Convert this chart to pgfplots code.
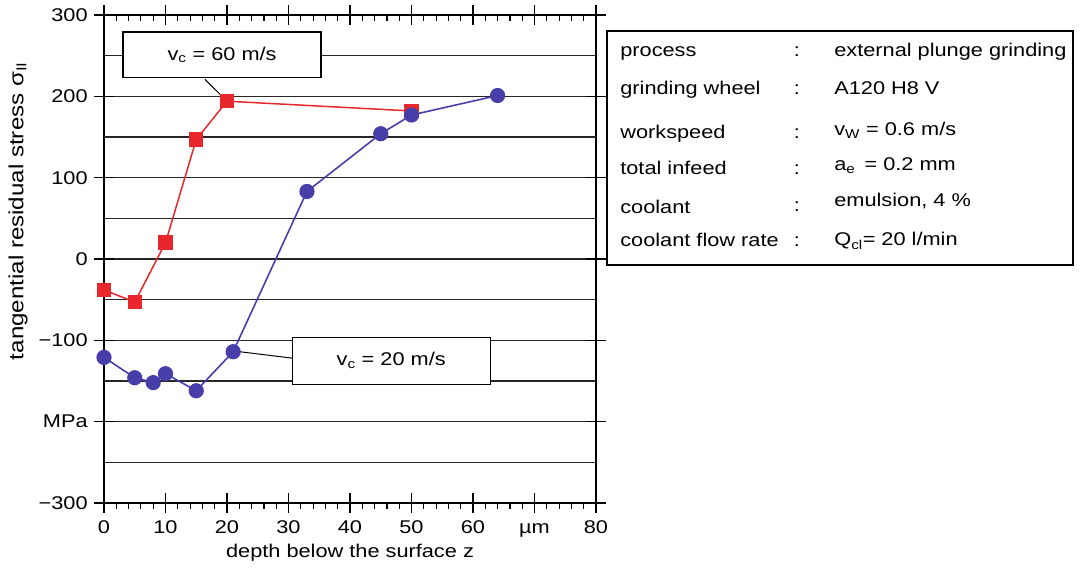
\documentclass[border=0pt]{standalone}
\usepackage{fontspec}
\setmainfont[FakeStretch=1.18]{Liberation Sans}
\usepackage{pgfplots}
\pgfplotsset{compat=1.18}
\definecolor{cred}{RGB}{232,38,43}
\definecolor{cblue}{RGB}{72,62,170}
\begin{document}
\fontsize{18.5}{22}\selectfont
\begin{tikzpicture}[x=1bp,y=1bp]
\useasboundingbox (0,0) rectangle (1081,579);
\begin{axis}[
  at={(104bp,76bp)}, anchor=south west,
  scale only axis, width=492bp, height=488bp,
  xmin=0, xmax=80, ymin=-300, ymax=300,
  axis line style={line width=1.8pt},
  xtick={0,10,...,80},
  xticklabels={0,10,20,30,40,50,60,µm,80},
  minor x tick num=4,
  ytick={-300,-200,...,300},
  yticklabels={−300,MPa,−100,0,100,200,300},
  extra y ticks={-250,-150,-50,50,150,250},
  extra y tick labels={},
  extra y tick style={major tick length=0pt},
  ymajorgrids,
  major grid style={black!85, line width=1.4pt},
  tick align=center,
  major tick length=20bp,
  minor tick length=6bp,
  every tick/.style={black, line width=1.2pt},
  minor x tick style={yshift=-3bp},
  ticklabel style={font=\fontsize{18.5}{22}\selectfont},
  xticklabel style={text height=0.72em, text depth=0.2em, yshift=-1bp},
  clip=false,
]
\draw[line width=1.2pt, fill=white] (axis cs:3.1,279) rectangle (axis cs:35.3,223);
\node at (axis cs:19.2,251) {v\textsubscript{c} = 60 m/s};
\draw[line width=1pt] (axis cs:16.4,221) -- (axis cs:20,194);
\draw[line width=1.2pt, fill=white] (axis cs:30.7,-97) rectangle (axis cs:62.8,-154);
\node at (axis cs:46.7,-125) {v\textsubscript{c} = 20 m/s};
\draw[line width=1pt] (axis cs:21,-113) -- (axis cs:30.7,-122);
\addplot[cred, line width=1.5pt, mark=square*, mark size=6.5bp, mark options={solid}]
coordinates {(0,-38) (5,-53) (10,20) (15,147) (20,194) (50,182)};
\addplot[cblue, line width=1.6pt, mark=*, mark size=6.8bp]
coordinates {(0,-121) (5,-146) (8,-152) (10,-141) (15,-162) (21,-114) (33,83) (45,154) (50,177) (64,201)};
\end{axis}
\node[rotate=90, font=\fontsize{20.5}{24}\selectfont] at (18,368) {tangential residual stress σ\textsubscript{II}};
\node at (350,26) {depth below the surface z};
\draw[line width=1.8pt] (607,314) rectangle (1073,548);
\node[anchor=base west] at (614,522) {process};
\node[anchor=base west] at (614,484) {grinding wheel};
\node[anchor=base west] at (614,440) {workspeed};
\node[anchor=base west] at (614,404) {total infeed};
\node[anchor=base west] at (614,365) {coolant};
\node[anchor=base west] at (614,332) {coolant flow rate};
\node[anchor=base] at (797,522) {:};
\node[anchor=base] at (797,484) {:};
\node[anchor=base] at (797,440) {:};
\node[anchor=base] at (797,404) {:};
\node[anchor=base] at (797,367) {:};
\node[anchor=base] at (797,332) {:};
\node[anchor=base west] at (828,522) {external plunge grinding};
\node[anchor=base west] at (828,484) {A120 H8 V};
\node[anchor=base west] at (828,443) {v\textsubscript{W} = 0.6 m/s};
\node[anchor=base west] at (828,408) {a\textsubscript{e}\, = 0.2 mm};
\node[anchor=base west] at (828,372) {emulsion, 4 \%};
\node[anchor=base west] at (828,333) {Q\textsubscript{cl}= 20 l/min};
\end{tikzpicture}
\end{document}
